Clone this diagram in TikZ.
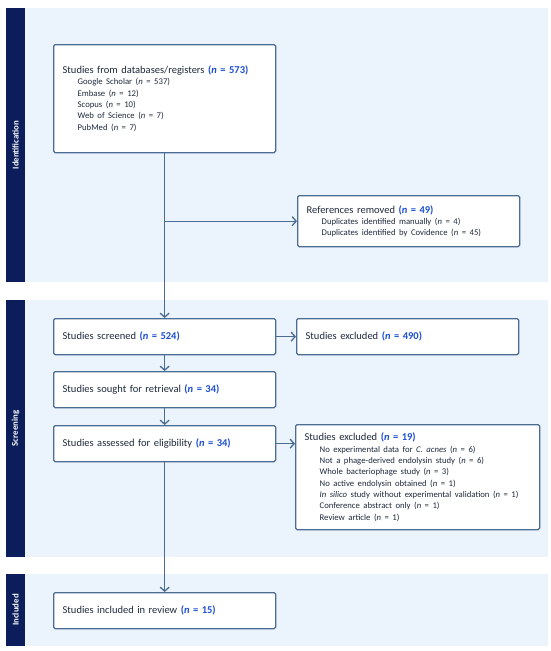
\documentclass[tikz,border=0pt]{standalone}
\usepackage{fontspec}
\setmainfont{Carlito}
\usetikzlibrary{arrows.meta}
\definecolor{bandblue}{HTML}{EBF3FD}
\definecolor{barnavy}{HTML}{0B1E5B}
\definecolor{lineblue}{HTML}{4B6D94}
\definecolor{textdark}{HTML}{1F2A3C}
\definecolor{nblue}{HTML}{1C4FD3}
\newcommand{\nval}[1]{\textcolor{nblue}{\textbf{(\textit{n} = #1)}}}
\newcommand{\subfont}{\fontsize{8.7}{11.3}\selectfont\leftskip=15pt}
\begin{document}
\begin{tikzpicture}[x=1pt, y=-1pt,
    box/.style={draw=lineblue, line width=1.3pt, rounded corners=1.5pt, fill=white,
        anchor=north west, inner xsep=9pt, inner ysep=3pt, align=left, text=textdark,
        text width=204pt, font=\fontsize{10.5}{12.5}\selectfont},
    phase/.style={rotate=90, text=white, font=\fontsize{8.8}{10}\selectfont\bfseries},
    flow/.style={draw=lineblue, line width=1.3pt, -{Straight Barb[length=4pt,width=9pt]}}]
    \useasboundingbox (0,0) rectangle (550,651);
    \fill[white] (0,0) rectangle (550,651);

    % phase bands
    \fill[bandblue] (25,8) rectangle (548,282);
    \fill[barnavy] (6,8) rectangle (25,282);
    \fill[bandblue] (25,300) rectangle (548,557);
    \fill[barnavy] (6,300) rectangle (25,557);
    \fill[bandblue] (25,574) rectangle (548,646);
    \fill[barnavy] (6,574) rectangle (25,646);

    \node[phase] (identlab) at (15.5,145) {Identification};
    \node[phase] (screenlab) at (15.5,428.5) {Screening};
    \node[phase] (inclab) at (15.5,610) {Included};

    % boxes
    \node[box, minimum width=222pt, minimum height=108pt] (sources) at (53,44)
        {Studies from databases/registers \nval{573}\par
        {\subfont Google Scholar (\textit{n} = 537)\\ Embase (\textit{n} = 12)\\
        Scopus (\textit{n} = 10)\\ Web of Science (\textit{n} = 7)\\ PubMed (\textit{n} = 7)\par}};

    \node[box, minimum width=222pt, minimum height=51pt] (removed) at (297,195)
        {References removed \nval{49}\par
        {\subfont Duplicates identified manually (\textit{n} = 4)\\
        Duplicates identified by Covidence (\textit{n} = 45)\par}};

    \node[box, minimum width=222pt, minimum height=36pt] (screened) at (53,318)
        {Studies screened \nval{524}};
    \node[box, minimum width=222pt, minimum height=36pt] (excluded) at (296,318)
        {Studies excluded \nval{490}};
    \node[box, minimum width=222pt, minimum height=36pt] (sought) at (53,371)
        {Studies sought for retrieval \nval{34}};
    \node[box, minimum width=222pt, minimum height=36pt] (assessed) at (53,425)
        {Studies assessed for eligibility \nval{34}};

    \node[box, minimum width=244pt, minimum height=105pt, text width=226pt] (reasons) at (295,424)
        {Studies excluded \nval{19}\par
        {\subfont No experimental data for \textit{C. acnes} (\textit{n} = 6)\\
        Not a phage-derived endolysin study (\textit{n} = 6)\\
        Whole bacteriophage study (\textit{n} = 3)\\
        No active endolysin obtained (\textit{n} = 1)\\
        \textit{In silico} study without experimental validation (\textit{n} = 1)\\
        Conference abstract only (\textit{n} = 1)\\
        Review article (\textit{n} = 1)\par}};

    \node[box, minimum width=222pt, minimum height=36pt] (included) at (53,592)
        {Studies included in review \nval{15}};

    % connectors
    \coordinate (split) at (sources.south |- removed.west);
    \draw[flow] (sources) -- (screened);
    \draw[flow] (split) -- (removed.west);
    \draw[flow] (screened) -- (excluded);
    \draw[flow] (screened) -- (sought);
    \draw[flow] (sought) -- (assessed);
    \draw[flow] (assessed.east) -- (assessed.east -| reasons.west);
    \draw[flow] (assessed) -- (included);
\end{tikzpicture}
\end{document}
